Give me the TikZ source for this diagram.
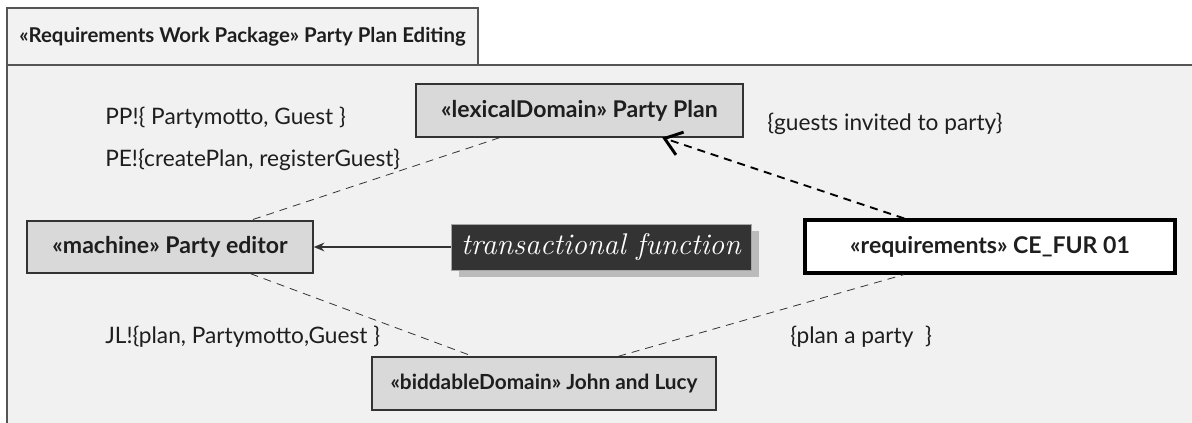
\documentclass[tikz,border=0pt]{standalone}
\usepackage{fontspec}
\newfontfamily\uifont{Lato}
\usetikzlibrary{arrows.meta,shadows,calc}
\definecolor{framebg}{HTML}{F1F1F1}
\definecolor{tabbg}{HTML}{F2F2F2}
\definecolor{framecol}{HTML}{555555}
\definecolor{boxfill}{HTML}{D9D9D9}
\definecolor{boxline}{HTML}{333333}
\definecolor{inkcol}{HTML}{1E1E1E}
\definecolor{funcfill}{HTML}{333333}
\definecolor{shadowcol}{HTML}{BBBBBB}
\tikzset{
  domainbox/.style={draw=boxline, line width=1pt, fill=boxfill, inner sep=0pt,
    font=\uifont\bfseries\fontsize{17.3}{20}\selectfont, text=inkcol},
  reqbox/.style={draw=black, line width=2.3pt, fill=white, inner sep=0pt,
    font=\uifont\bfseries\fontsize{17.3}{20}\selectfont, text=inkcol},
  funcbox/.style={fill=funcfill, draw=gray!70, line width=0.5pt, inner sep=0pt, text=white,
    font=\itshape\fontsize{22.4}{26}\selectfont,
    drop shadow={shadow xshift=6pt, shadow yshift=-5.25pt, fill=shadowcol, opacity=1}},
  phenom/.style={anchor=west, inner sep=0pt, text=inkcol,
    font=\uifont\fontsize{17}{20}\selectfont},
  iface/.style={draw=boxline, line width=0.6pt, dash pattern=on 6pt off 4.5pt},
  refers/.style={draw=black, line width=1.4pt, dash pattern=on 6pt off 4.5pt,
    -{Straight Barb[length=12pt,width=18pt,line width=2.2pt]}},
  flow/.style={draw=boxline, line width=1.5pt, -{Stealth[length=8pt,width=6.5pt]}}
}
\begin{document}
\begin{tikzpicture}[x=0.75pt,y=-0.75pt]
\useasboundingbox (0,0) rectangle (1192,423);
\fill[white] (0,0) rectangle (1192,423);

% package frame with its name tab
\fill[framebg] (7,65) rectangle (1193,424);
\draw[framecol, line width=1.2pt] (1193,65) -- (7,65) -- (7,424);
\node[draw=framecol, line width=1.2pt, fill=tabbg, inner sep=0pt,
      minimum width=353.25pt, minimum height=42.75pt,
      font=\uifont\bfseries\fontsize{15.3}{18}\selectfont, text=inkcol]
  (tab) at (242.5,36.5) {«Requirements Work Package» Party Plan Editing};

% domains, machine and requirement
\node[domainbox, minimum width=245.25pt, minimum height=39.75pt]
  (plan) at (579.5,110.5) {«lexicalDomain» Party Plan};
\node[domainbox, minimum width=214.5pt, minimum height=39pt]
  (editor) at (170,247) {«machine» Party editor};
\node[domainbox, minimum width=258pt, minimum height=39.75pt,
      font=\uifont\bfseries\fontsize{15.6}{18}\selectfont]
  (people) at (544,383.5) {«biddableDomain» John and Lucy};
\node[reqbox, minimum width=277.5pt, minimum height=39.75pt]
  (req) at (990,246.5) {«requirements» CE\_FUR 01};
\node[funcbox, minimum width=225pt, minimum height=34.5pt]
  (func) at (601,247) {transactional function};

% shared phenomena
\node[phenom] (ppl) at (105,118) {PP!\{ Partymotto, Guest \}};
\node[phenom] (pel) at (105,160) {PE!\{createPlan, registerGuest\}};
\node[phenom] (jll) at (105,337) {JL!\{plan, Partymotto,Guest \}};
\node[phenom] (gil) at (767,124) {\{guests invited to party\}};
\node[phenom] (pal) at (790,337) {\{plan a party \ \}};

% interfaces
\draw[iface] ($(plan.south west)!0.257!(plan.south east)$)
          -- ($(editor.north west)!0.78!(editor.north east)$);
\draw[iface] ($(editor.south west)!0.78!(editor.south east)$)
          -- ($(people.north west)!0.294!(people.north east)$);
\draw[iface] ($(people.north west)!0.715!(people.north east)$)
          -- ($(req.south west)!0.27!(req.south east)$);
\draw[refers] ($(req.north west)!0.27!(req.north east)$)
          -- ($(plan.south west)!0.752!(plan.south east)$);
\draw[flow] (func.west) -- (editor.east);
\end{tikzpicture}
\end{document}
